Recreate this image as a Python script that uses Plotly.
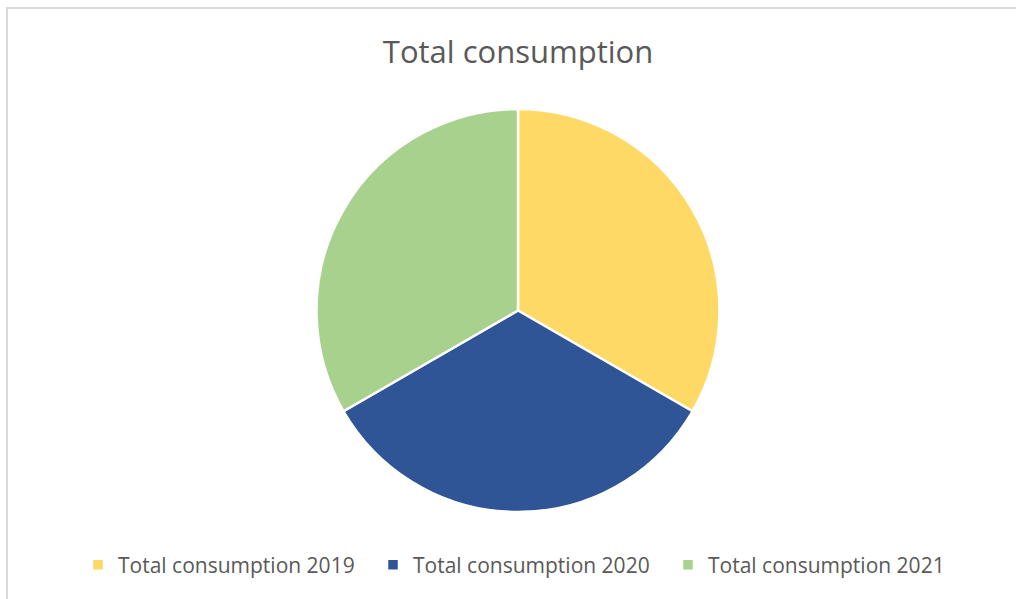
import plotly.graph_objects as go

# Consumption totals per year (equal shares)
labels = ["Total consumption 2019", "Total consumption 2020", "Total consumption 2021"]
values = [1, 1, 1]
colors = ["#FFD966", "#2F5597", "#A9D18E"]

W, H = 1016, 599

fig = go.Figure(
    go.Pie(
        labels=labels,
        values=values,
        sort=False,
        direction="clockwise",
        rotation=0,
        textinfo="none",
        hoverinfo="label+percent",
        marker=dict(colors=colors, line=dict(color="white", width=2.5)),
        domain=dict(x=[316 / W, 720 / W], y=[1 - 512 / H, 1 - 109 / H]),
    )
)

fig.update_layout(
    width=W,
    height=H,
    margin=dict(l=0, r=0, t=0, b=0),
    paper_bgcolor="white",
    plot_bgcolor="white",
    title=dict(
        text="Total consumption",
        x=518 / W,
        xanchor="center",
        y=1 - 52 / H,
        yanchor="middle",
        font=dict(family="Open Sans", size=31, color="#595959"),
    ),
    legend=dict(
        orientation="h",
        x=78 / W,
        xanchor="left",
        y=1 - 565 / H,
        yanchor="middle",
        font=dict(family="Open Sans", size=21, color="#595959"),
        entrywidth=250,
        entrywidthmode="pixels",
        itemwidth=30,
        traceorder="normal",
    ),
    shapes=[
        dict(
            type="rect",
            xref="paper",
            yref="paper",
            x0=7 / W,
            x1=1.02,
            y0=-0.02,
            y1=1 - 8 / H,
            line=dict(color="#D9D9D9", width=2),
            fillcolor="rgba(0,0,0,0)",
            layer="below",
        )
    ],
)

fig.write_html("out.html")
